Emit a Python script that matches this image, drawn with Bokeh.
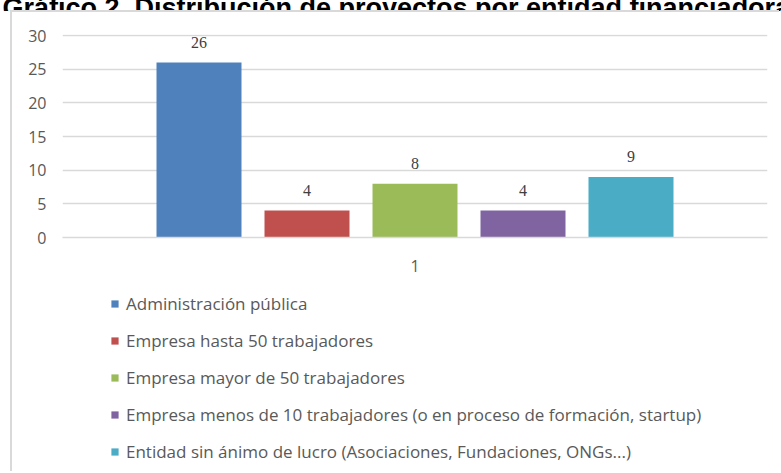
from bokeh.plotting import figure
from bokeh.models import (ColumnDataSource, FactorRange, Range1d, FixedTicker, Legend,
                          LegendItem, Label, LabelSet)
from bokeh.transform import dodge
from bokeh.embed import file_html
from bokeh.resources import INLINE

title_text = "Gráfico 2. Distribución de proyectos por entidad financiadora"
categories = ["1"]
series_names = [
    "Administración pública",
    "Empresa hasta 50 trabajadores",
    "Empresa mayor de 50 trabajadores",
    "Empresa menos de 10 trabajadores (o en proceso de formación, startup)",
    "Entidad sin ánimo de lucro (Asociaciones, Fundaciones, ONGs...)",
]
series_values = [26, 4, 8, 4, 9]
series_colors = ["#4F81BD", "#C0504D", "#9BBB59", "#8064A2", "#4BACC6"]
y_ticks = [0, 5, 10, 15, 20, 25, 30]

TEXT_FONT = "Open Sans"
GRID = "#d9d9d9"

sources = [ColumnDataSource(dict(cat=categories, val=[v], lab=[str(v)]))
           for v in series_values]

# ---------------- title strip (its top is cut by the window, as in the source) ----
TH = 40
t = figure(width=781, height=TH, x_range=Range1d(0, 781), y_range=Range1d(0, TH),
           output_backend="svg", toolbar_location=None, min_border=0,
           x_axis_location=None, y_axis_location=None, outline_line_color=None)
t.grid.grid_line_color = None
t.styles = {"position": "absolute", "left": "0px", "top": f"{11 - TH}px"}
t.add_layout(Label(x=2, y=4, text=title_text, text_font="Liberation Sans",
                   text_font_style="bold", text_font_size="27px",
                   text_color="black", text_baseline="alphabetic", text_align="left"))

# ---------------- main chart ---------------------------------------------------
W, H = 769, 461
FL, FR, FT, FB = 50, 755, 22, 225

p = figure(width=W, height=H, x_range=FactorRange(*categories, range_padding=0),
           y_range=Range1d(0, 30.15), output_backend="svg", toolbar_location=None,
           min_border_left=FL, min_border_right=W - FR, min_border_top=FT,
           min_border_bottom=H - FB, background_fill_color="white",
           border_fill_color="white", outline_line_color=None)
p.styles = {"position": "absolute", "left": "12px", "top": "12px",
            "box-shadow": "-2px -2px 0px 0px " + GRID}

frame_w = FR - FL
step = 108 / frame_w
bar_w = 85 / frame_w
for i, (src, col) in enumerate(zip(sources, series_colors)):
    off = (i - 2) * step
    p.vbar(x=dodge("cat", off, range=p.x_range), top="val", width=bar_w, bottom=0,
           source=src, fill_color=col, line_color=None)
    p.add_layout(LabelSet(x=dodge("cat", off, range=p.x_range), y="val", text="lab",
                          source=src, text_align="center", text_baseline="middle",
                          y_offset=20, text_font=TEXT_FONT, text_font_size="16px",
                          text_color="#404040"))

p.yaxis.ticker = FixedTicker(ticks=y_ticks)
p.ygrid.ticker = FixedTicker(ticks=y_ticks)
p.yaxis.axis_line_color = None
p.yaxis.major_tick_line_color = None
p.yaxis.minor_tick_line_color = None
p.yaxis.major_label_text_font = TEXT_FONT
p.yaxis.major_label_text_font_size = "16px"
p.yaxis.major_label_text_color = "#595959"
p.yaxis.major_label_standoff = 10
p.xaxis.axis_line_color = GRID
p.xaxis.axis_line_width = 1.5
p.xaxis.major_tick_line_color = None
p.xaxis.minor_tick_line_color = None
p.xaxis.major_label_text_font = TEXT_FONT
p.xaxis.major_label_text_font_size = "16px"
p.xaxis.major_label_text_color = "#595959"
p.xaxis.major_label_standoff = 16
p.xgrid.grid_line_color = None
p.ygrid.grid_line_color = GRID
p.ygrid.grid_line_width = 1.5

# ---------------- legend strip ----------------------------------------------------
LW, LH = 700, 190
lg = figure(width=LW, height=LH, x_range=FactorRange(*categories), y_range=Range1d(0, 30),
            output_backend="svg", toolbar_location=None, min_border=0,
            x_axis_location=None, y_axis_location=None, outline_line_color=None,
            background_fill_alpha=0, border_fill_alpha=0)
lg.grid.grid_line_color = None
lg.styles = {"position": "absolute", "left": "12px", "top": "283px"}
items = []
for name, src, col in zip(series_names, sources, series_colors):
    r = lg.vbar(x="cat", top="val", width=0.1, source=src, fill_color=col,
                line_color=None, visible=False)
    items.append(LegendItem(label=name, renderers=[r]))
legend = Legend(items=items, location=(98, 10), orientation="vertical",
                glyph_width=9, glyph_height=9, label_height=24, spacing=13,
                padding=0, margin=0, label_standoff=7,
                label_text_font=TEXT_FONT, label_text_font_size="17px",
                label_text_color="#595959", border_line_color=None,
                background_fill_alpha=0, inactive_fill_alpha=0)
lg.add_layout(legend, "center")

open("out.html", "w").write(file_html([t, p, lg], INLINE))
